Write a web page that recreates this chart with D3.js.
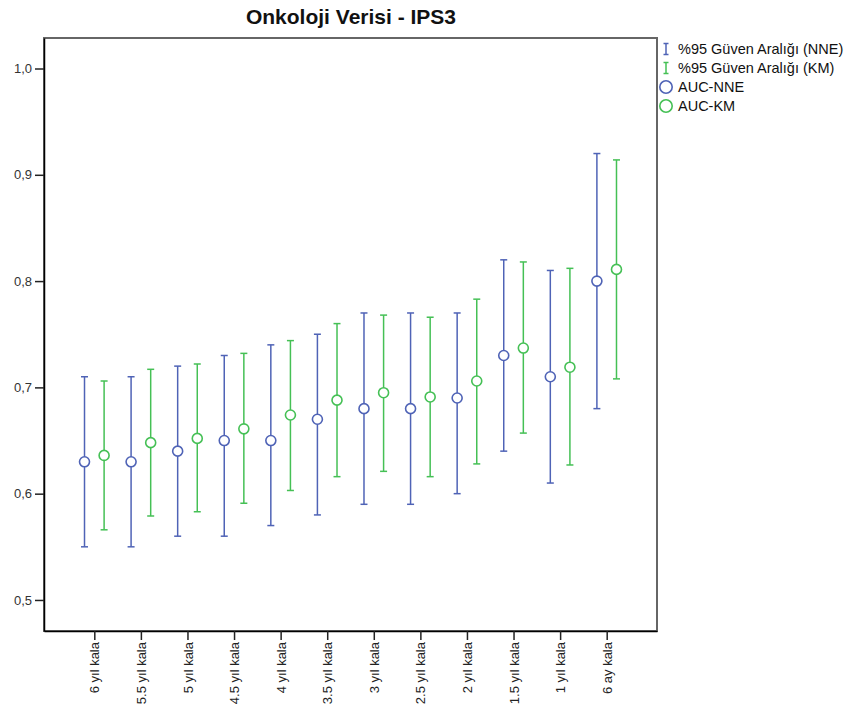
<!DOCTYPE html>
<html>
<head>
<meta charset="utf-8">
<script src="https://cdn.jsdelivr.net/npm/d3@7"></script>
<style>
  html, body { margin: 0; padding: 0; background: #fff; }
  svg { display: block; font-family: "Liberation Sans", Arial, sans-serif; }
</style>
</head>
<body>
<svg id="chart" width="853" height="711"></svg>
<script>
// Time-before-event categories
const categories = ["6 yıl kala", "5.5 yıl kala", "5 yıl kala", "4.5 yıl kala", "4 yıl kala",
  "3.5 yıl kala", "3 yıl kala", "2.5 yıl kala", "2 yıl kala", "1.5 yıl kala", "1 yıl kala", "6 ay kala"];

// AUC with 95% confidence bounds — NNE estimator
const nneAuc   = [0.63, 0.63, 0.64, 0.65, 0.65, 0.67, 0.68, 0.68, 0.69, 0.73, 0.71, 0.80];
const nneLower = [0.55, 0.55, 0.56, 0.56, 0.57, 0.58, 0.59, 0.59, 0.60, 0.64, 0.61, 0.68];
const nneUpper = [0.71, 0.71, 0.72, 0.73, 0.74, 0.75, 0.77, 0.77, 0.77, 0.82, 0.81, 0.92];

// AUC with 95% confidence bounds — KM estimator
const kmAuc   = [0.636, 0.648, 0.652, 0.661, 0.674, 0.688, 0.695, 0.691, 0.706, 0.737, 0.719, 0.811];
const kmLower = [0.566, 0.579, 0.583, 0.591, 0.603, 0.616, 0.621, 0.616, 0.628, 0.657, 0.627, 0.708];
const kmUpper = [0.706, 0.717, 0.722, 0.732, 0.744, 0.760, 0.768, 0.766, 0.783, 0.818, 0.812, 0.914];

const yTicks = [0.5, 0.6, 0.7, 0.8, 0.9, 1.0];

const legendItems = [
  { label: "%95 Güven Aralığı (NNE)", kind: "bar", color: "#4f63b6" },
  { label: "%95 Güven Aralığı (KM)", kind: "bar", color: "#45c055" },
  { label: "AUC-NNE", kind: "circle", color: "#4f63b6" },
  { label: "AUC-KM", kind: "circle", color: "#45c055" }
];

const svg = d3.select("#chart");
const frame = { left: 44, right: 657, top: 38, bottom: 631 };

const x = d3.scalePoint().domain(categories).range([frame.left, frame.right]).padding(1.08);
const y = d3.scaleLinear().domain([0.4708, 1.0287]).range([frame.bottom, frame.top]);

// Plot frame
svg.append("rect")
  .attr("x", frame.left).attr("y", frame.top)
  .attr("width", frame.right - frame.left).attr("height", frame.bottom - frame.top)
  .attr("fill", "#fff").attr("stroke", "#666").attr("stroke-width", 2);

// Title
svg.append("text")
  .attr("x", 351).attr("y", 24)
  .attr("text-anchor", "middle")
  .attr("font-size", 21).attr("font-weight", "bold").attr("fill", "#111")
  .text("Onkoloji Verisi - IPS3");

// Y axis
const yAxis = d3.axisLeft(y).tickValues(yTicks).tickSize(9).tickSizeOuter(0).tickPadding(3)
  .tickFormat(d => d3.format(".1f")(d).replace(".", ","));
const gy = svg.append("g").attr("transform", `translate(${frame.left},0)`).call(yAxis);
gy.select(".domain").attr("stroke", "#000").attr("stroke-width", 1.5);
gy.selectAll(".tick line").attr("stroke", "#222").attr("stroke-width", 1.5);
gy.selectAll(".tick text").attr("font-size", 13).attr("fill", "#333")
  .attr("font-family", "'Liberation Sans', Arial, sans-serif");

// X axis
const xAxis = d3.axisBottom(x).tickSize(9).tickSizeOuter(0).tickPadding(3);
const gx = svg.append("g").attr("transform", `translate(0,${frame.bottom})`).call(xAxis);
gx.select(".domain").attr("stroke", "#000").attr("stroke-width", 1.5);
gx.selectAll(".tick line").attr("stroke", "#222").attr("stroke-width", 1.5);
gx.selectAll(".tick text")
  .attr("font-size", 13).attr("fill", "#222")
  .attr("font-family", "'Liberation Sans', Arial, sans-serif")
  .attr("text-anchor", "end")
  .attr("transform", "rotate(-90)")
  .attr("x", -11).attr("y", 0).attr("dy", "0.35em");

// Error bars and AUC markers
const offset = 9.8, cap = 3.5;
function drawSeries(auc, lo, hi, dx, color) {
  const g = svg.append("g");
  categories.forEach((c, i) => {
    const cx = x(c) + dx;
    g.append("line").attr("x1", cx).attr("x2", cx).attr("y1", y(lo[i])).attr("y2", y(hi[i]))
      .attr("stroke", color).attr("stroke-width", 1.5);
    [lo[i], hi[i]].forEach(v => {
      g.append("line").attr("x1", cx - cap).attr("x2", cx + cap).attr("y1", y(v)).attr("y2", y(v))
        .attr("stroke", color).attr("stroke-width", 1.5);
    });
    g.append("circle").attr("cx", cx).attr("cy", y(auc[i])).attr("r", 5)
      .attr("fill", "#fff").attr("stroke", color).attr("stroke-width", 1.6);
  });
}
drawSeries(nneAuc, nneLower, nneUpper, -offset, legendItems[0].color);
drawSeries(kmAuc, kmLower, kmUpper, offset, legendItems[1].color);

// Legend
const lg = svg.append("g").attr("transform", "translate(666,0)");
const rowY = [49, 68, 87, 106];
legendItems.forEach((d, i) => {
  const ry = rowY[i];
  if (d.kind === "bar") {
    lg.append("line").attr("x1", 0).attr("x2", 0).attr("y1", ry - 5.5).attr("y2", ry + 5.5)
      .attr("stroke", d.color).attr("stroke-width", 1.5);
    [ry - 5.5, ry + 5.5].forEach(v => lg.append("line").attr("x1", -2.5).attr("x2", 2.5)
      .attr("y1", v).attr("y2", v).attr("stroke", d.color).attr("stroke-width", 1.5));
  } else {
    lg.append("circle").attr("cx", 0).attr("cy", ry).attr("r", 6.2)
      .attr("fill", "#fff").attr("stroke", d.color).attr("stroke-width", 1.6);
  }
  lg.append("text").attr("x", 12).attr("y", ry).attr("dy", "0.35em")
    .attr("font-size", 14.5).attr("fill", "#111").text(d.label);
});
</script>
</body>
</html>
